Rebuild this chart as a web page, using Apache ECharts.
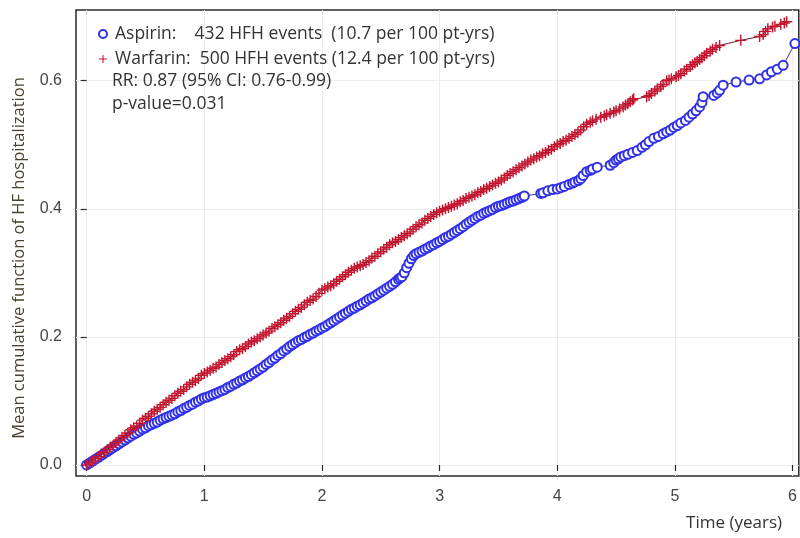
<!DOCTYPE html>
<html><head><meta charset="utf-8">
<script src="https://cdn.jsdelivr.net/npm/echarts@6/dist/echarts.min.js"></script>
<style>html,body{margin:0;padding:0;background:#fff}#c{width:800px;height:538px}</style>
</head><body><div id="c"></div>
<script>
// Aspirin: time (years) and mean cumulative function
const aspirinT = [0.000,0.025,0.050,0.075,0.100,0.125,0.150,0.175,0.200,0.225,0.250,0.275,0.300,0.325,0.350,0.375,0.400,0.425,0.450,0.475,
  0.500,0.525,0.550,0.575,0.600,0.625,0.650,0.675,0.700,0.725,0.750,0.775,0.800,0.825,0.850,0.875,0.900,0.925,0.950,0.975,
  1.000,1.025,1.050,1.075,1.100,1.125,1.150,1.175,1.200,1.225,1.250,1.275,1.300,1.325,1.350,1.375,1.400,1.425,1.450,1.475,
  1.500,1.525,1.550,1.575,1.600,1.625,1.650,1.675,1.700,1.725,1.750,1.775,1.800,1.825,1.850,1.875,1.900,1.925,1.950,1.975,
  2.000,2.025,2.050,2.075,2.100,2.125,2.150,2.175,2.200,2.225,2.250,2.275,2.300,2.325,2.350,2.375,2.400,2.425,2.450,2.475,
  2.500,2.525,2.550,2.575,2.600,2.625,2.650,2.665,2.680,2.700,2.720,2.740,2.760,2.780,2.800,2.825,2.850,2.875,2.900,2.925,2.950,2.975,
  3.000,3.025,3.050,3.075,3.100,3.125,3.150,3.175,3.200,3.225,3.250,3.275,3.300,3.325,3.350,3.375,3.400,3.425,3.450,3.475,
  3.500,3.525,3.550,3.575,3.600,3.625,3.650,3.675,3.700,3.720,
  3.86,3.88,3.92,3.96,4.00,4.03,4.06,4.10,4.13,4.15,4.18,4.20,4.22,4.25,4.28,4.30,4.34,4.45,4.48,4.50,4.52,4.54,4.57,4.60,4.64,4.68,
  4.72,4.75,4.78,4.82,4.86,4.90,4.93,4.96,4.99,5.02,5.05,5.09,5.12,5.15,5.18,5.21,5.23,5.24,5.33,5.36,5.38,5.41,5.52,5.63,5.72,5.78,5.82,5.87,5.92,6.02];
const aspirinMCF = [0.000,0.003,0.006,0.009,0.012,0.015,0.018,0.021,0.024,0.027,0.030,0.033,0.036,0.039,0.042,0.045,0.048,0.050,0.053,0.056,
  0.058,0.061,0.063,0.065,0.067,0.070,0.072,0.074,0.076,0.078,0.080,0.083,0.085,0.088,0.090,0.093,0.095,0.098,0.100,0.103,
  0.105,0.106,0.108,0.110,0.112,0.114,0.116,0.118,0.121,0.123,0.126,0.128,0.131,0.133,0.136,0.138,0.141,0.144,0.147,0.150,
  0.153,0.157,0.160,0.164,0.167,0.171,0.174,0.178,0.181,0.185,0.188,0.191,0.194,0.196,0.199,0.201,0.204,0.206,0.209,0.211,
  0.214,0.216,0.219,0.222,0.225,0.228,0.231,0.234,0.237,0.240,0.243,0.245,0.248,0.250,0.253,0.256,0.259,0.261,0.264,0.267,
  0.270,0.273,0.276,0.279,0.282,0.286,0.290,0.292,0.294,0.300,0.308,0.315,0.322,0.327,0.330,0.332,0.334,0.337,0.339,0.342,0.344,0.347,
  0.349,0.352,0.355,0.357,0.360,0.363,0.366,0.369,0.372,0.376,0.379,0.382,0.385,0.388,0.390,0.393,0.395,0.397,0.399,0.402,
  0.404,0.405,0.407,0.409,0.411,0.412,0.414,0.416,0.418,0.420,
  0.424,0.425,0.428,0.430,0.431,0.433,0.435,0.438,0.440,0.442,0.444,0.447,0.452,0.458,0.460,0.462,0.465,0.468,0.472,0.476,0.478,0.481,0.483,0.485,0.488,0.491,
  0.496,0.500,0.505,0.510,0.513,0.517,0.520,0.523,0.527,0.530,0.534,0.538,0.543,0.548,0.553,0.559,0.566,0.575,0.577,0.581,0.585,0.593,0.598,0.601,0.603,0.609,0.614,0.618,0.624,0.658];
// Warfarin: time (years) and mean cumulative function
const warfarinT = [0.000,0.025,0.050,0.075,0.100,0.125,0.150,0.175,0.200,0.225,0.250,0.275,0.300,0.325,0.350,0.375,0.400,0.425,0.450,0.475,
  0.500,0.525,0.550,0.575,0.600,0.625,0.650,0.675,0.700,0.725,0.750,0.775,0.800,0.825,0.850,0.875,0.900,0.925,0.950,0.975,
  1.000,1.025,1.050,1.075,1.100,1.125,1.150,1.175,1.200,1.225,1.250,1.275,1.300,1.325,1.350,1.375,1.400,1.425,1.450,1.475,
  1.500,1.525,1.550,1.575,1.600,1.625,1.650,1.675,1.700,1.725,1.750,1.775,1.800,1.825,1.850,1.875,1.900,1.925,1.950,1.975,
  2.000,2.025,2.050,2.075,2.100,2.125,2.150,2.175,2.200,2.225,2.250,2.275,2.300,2.325,2.350,2.375,2.400,2.425,2.450,2.475,
  2.500,2.525,2.550,2.575,2.600,2.625,2.650,2.675,2.700,2.725,2.750,2.775,2.800,2.825,2.850,2.875,2.900,2.925,2.950,2.975,
  3.000,3.025,3.050,3.075,3.100,3.125,3.150,3.175,3.200,3.225,3.250,3.275,3.300,3.325,3.350,3.375,3.400,3.425,3.450,3.475,
  3.500,3.525,3.550,3.575,3.600,3.625,3.650,3.675,3.700,3.725,3.750,3.775,3.800,3.825,3.850,3.875,3.900,3.925,3.950,3.975,
  4.000,4.025,4.050,4.075,4.100,4.125,4.150,4.175,4.200,4.225,4.250,
  4.28,4.30,4.33,4.37,4.40,4.42,4.45,4.48,4.50,4.53,4.56,4.58,4.60,4.62,4.64,4.65,4.76,4.78,4.80,4.83,4.85,4.88,4.90,4.93,4.95,4.97,
  5.01,5.03,5.05,5.08,5.10,5.13,5.15,5.17,5.19,5.21,5.23,5.25,5.27,5.30,5.32,5.35,5.38,5.56,5.72,5.75,5.77,5.79,5.83,5.85,5.90,5.93,5.95];
const warfarinMCF = [0.000,0.003,0.006,0.010,0.013,0.017,0.020,0.024,0.028,0.031,0.035,0.039,0.043,0.046,0.050,0.055,0.058,0.061,0.065,0.070,
  0.073,0.076,0.080,0.084,0.087,0.090,0.094,0.098,0.101,0.104,0.108,0.112,0.115,0.118,0.122,0.126,0.129,0.132,0.135,0.140,
  0.143,0.145,0.148,0.151,0.153,0.157,0.160,0.163,0.166,0.169,0.172,0.177,0.180,0.182,0.185,0.189,0.192,0.194,0.197,0.200,
  0.203,0.206,0.209,0.213,0.216,0.219,0.222,0.226,0.229,0.232,0.236,0.240,0.243,0.246,0.250,0.254,0.257,0.259,0.263,0.268,
  0.273,0.275,0.278,0.280,0.283,0.287,0.290,0.294,0.297,0.301,0.304,0.307,0.309,0.311,0.313,0.316,0.319,0.323,0.326,0.330,
  0.333,0.337,0.340,0.344,0.347,0.349,0.352,0.355,0.358,0.361,0.364,0.368,0.372,0.375,0.378,0.382,0.385,0.388,0.391,0.394,
  0.396,0.398,0.400,0.402,0.404,0.406,0.408,0.411,0.413,0.416,0.418,0.420,0.422,0.425,0.427,0.430,0.432,0.435,0.437,0.440,
  0.442,0.445,0.448,0.452,0.455,0.458,0.461,0.464,0.467,0.470,0.473,0.476,0.478,0.481,0.483,0.486,0.488,0.491,0.493,0.497,
  0.500,0.502,0.505,0.507,0.510,0.513,0.516,0.519,0.523,0.528,0.532,
  0.535,0.537,0.540,0.543,0.545,0.547,0.549,0.551,0.553,0.556,0.559,0.562,0.564,0.567,0.570,0.572,0.575,0.577,0.580,0.584,0.587,0.591,0.594,0.600,0.601,0.603,
  0.606,0.608,0.611,0.615,0.618,0.622,0.625,0.628,0.630,0.633,0.636,0.639,0.643,0.646,0.649,0.652,0.655,0.663,0.669,0.672,0.677,0.681,0.684,0.685,0.688,0.690,0.692];
const xTicks = [0,1,2,3,4,5,6];
const yTicks = [0,0.2,0.4,0.6];
const seriesNames = ['Aspirin','Warfarin'];
const legendLabels = ['Aspirin:    432 HFH events  (10.7 per 100 pt-yrs)','Warfarin:  500 HFH events (12.4 per 100 pt-yrs)'];
const statLines = ['RR: 0.87 (95% CI: 0.76-0.99)','p-value=0.031'];
const xTitle = 'Time (years)';
const yTitle = 'Mean cumulative function of HF hospitalization';

const PLUS = 'path://M4.35,0H5.65V4.35H10V5.65H5.65V10H4.35V5.65H0V4.35H4.35Z';
const zip = (a,b) => a.map((v,i)=>[v,b[i]]);
const chart = echarts.init(document.getElementById('c'), null, {renderer:'canvas'});
const TXT = 'Open Sans';
const labelFont = {color:'#444', fontFamily:'"Liberation Sans Narrow","Liberation Sans"', fontSize:16};
chart.setOption({
  animation:false,
  backgroundColor:'#fff',
  grid:{left:76, top:10, width:727, height:466, show:true, borderColor:'#2a2a2a', borderWidth:1.5, containLabel:false},
  xAxis:{type:'value', min:-0.0904, max:6.053,
    axisLine:{show:false},
    axisTick:{show:true, inside:false, length:6, customValues:xTicks, lineStyle:{color:'#2a2a2a', width:1.2}},
    axisLabel:Object.assign({customValues:xTicks, margin:13, formatter:v=>String(v)}, labelFont),
    splitLine:{show:true, lineStyle:{color:'#ececec', width:1}}},
  yAxis:{type:'value', min:-0.0172, max:0.7104,
    axisLine:{show:false},
    axisTick:{show:true, inside:false, length:6, customValues:yTicks, lineStyle:{color:'#2a2a2a', width:1.2}},
    axisLabel:Object.assign({customValues:yTicks, margin:14, formatter:v=>v.toFixed(1)}, labelFont),
    splitLine:{show:true, lineStyle:{color:'#ececec', width:1}},
    name:yTitle, nameLocation:'middle', nameGap:48, nameRotate:90,
    nameTextStyle:{color:'#4a4230', fontFamily:TXT, fontSize:16.5, padding:[0,30,0,0]}},
  legend:{orient:'vertical', left:93, top:20, itemWidth:14, itemHeight:8, itemGap:7, z:20,
    data:[{name:seriesNames[0], icon:'emptyCircle'},{name:seriesNames[1], icon:PLUS}],
    formatter:n=>legendLabels[seriesNames.indexOf(n)],
    textStyle:{color:'#333', fontFamily:TXT, fontSize:17.5, lineHeight:17}},
  graphic:[
    {type:'text', x:112, y:81, z:100, style:{text:statLines[0], fill:'#333', font:'17.5px "Open Sans"', textVerticalAlign:'middle'}},
    {type:'text', x:112, y:104, z:100, style:{text:statLines[1], fill:'#333', font:'17.5px "Open Sans"', textVerticalAlign:'middle'}},
    {type:'text', x:782, y:523, z:100, style:{text:xTitle, fill:'#333', font:'17px "Open Sans"', textAlign:'right', textVerticalAlign:'middle'}}
  ],
  series:[
    {name:seriesNames[0], type:'line', data:zip(aspirinT, aspirinMCF), symbol:'emptyCircle', symbolSize:9, showAllSymbol:true,
      itemStyle:{color:'#3030e8', borderWidth:1}, lineStyle:{color:'#3b3b8c', width:1}, z:2},
    {name:seriesNames[1], type:'line', data:zip(warfarinT, warfarinMCF), symbol:PLUS, symbolSize:11, showAllSymbol:true,
      itemStyle:{color:'#c4142e'}, lineStyle:{color:'#6e1a28', width:1}, z:3}
  ]
});
</script></body></html>
